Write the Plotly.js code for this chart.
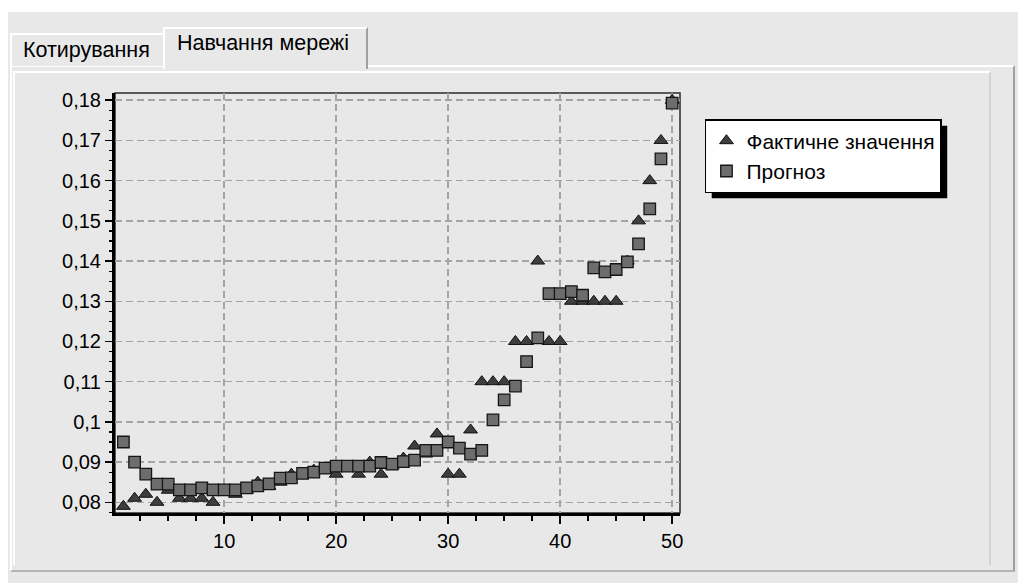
<!DOCTYPE html>
<html>
<head>
<meta charset="utf-8">
<script src="https://cdn.plot.ly/plotly-3.0.1.min.js"></script>
<style>
  html, body { margin: 0; padding: 0; background: #ffffff; width: 1018px; height: 583px; overflow: hidden; }
  #win { position: absolute; left: 8px; top: 12px; width: 1010px; height: 571px; background: #e8e8e8; }
  .tab { position: absolute; box-sizing: border-box; font-family: 'Liberation Sans', Arial, sans-serif; font-size: 21.5px; color: #000; background: #e8e8e8; white-space: nowrap; }
  #tab1 { left: 10px; top: 33px; width: 155px; height: 33px; border-top: 2px solid #ffffff; border-left: 2px solid #ffffff; padding: 3px 0 0 11px; }
  #tab2 { left: 163px; top: 27px; width: 205px; height: 42px; border-top: 2px solid #ffffff; border-left: 2px solid #ffffff; border-right: 2px solid #a0a0a0; padding: 2px 0 0 12px; z-index: 2; }
  #panel { position: absolute; left: 10px; top: 65px; width: 1005px; height: 507px; box-sizing: border-box; border-top: 2px solid #ffffff; border-left: 2px solid #ffffff; border-right: 2px solid #a0a0a0; border-bottom: 2px solid #b4b4b4; background: #e8e8e8; }
  #inner { position: absolute; left: 13px; top: 71px; width: 978px; height: 494px; box-sizing: border-box; border-top: 2px solid #ffffff; border-left: 2px solid #ffffff; border-right: 2px solid #d2d2d2; }
  #chart { position: absolute; left: 0; top: 0; width: 1018px; height: 583px; z-index: 5; }
</style>
</head>
<body>
<div id="win"></div>
<div id="panel"></div>
<div id="inner"></div>
<div class="tab" id="tab1">Котирування</div>
<div class="tab" id="tab2">Навчання мережі</div>
<div id="chart"></div>
<script>
// ---- data ----
const xIndex = [1,2,3,4,5,6,7,8,9,10,11,12,13,14,15,16,17,18,19,20,21,22,23,24,25,26,27,28,29,30,31,32,33,34,35,36,37,38,39,40,41,42,43,44,45,46,47,48,49,50];

const actualValues = [0.079,0.081,0.082,0.080,0.083,0.081,0.081,0.081,0.080,0.083,
                      0.082,0.083,0.085,0.084,0.085,0.087,0.087,0.088,0.088,0.087,
                      0.089,0.087,0.090,0.087,0.089,0.091,0.094,0.092,0.097,0.087,
                      0.087,0.098,0.110,0.110,0.110,0.120,0.120,0.140,0.120,0.120,
                      0.130,0.130,0.130,0.130,0.130,0.140,0.150,0.160,0.170,0.180];

const forecastValues = [0.0950,0.0900,0.0870,0.0845,0.0845,0.0831,0.0831,0.0836,0.0831,0.0831,
                        0.0831,0.0836,0.0841,0.0846,0.0860,0.0861,0.0872,0.0875,0.0885,0.0890,
                        0.0890,0.0890,0.0890,0.0899,0.0895,0.0901,0.0905,0.0929,0.0929,0.0950,
                        0.0935,0.0920,0.0929,0.1005,0.1055,0.1089,0.1150,0.1209,0.1319,0.1319,
                        0.1324,0.1315,0.1383,0.1373,0.1379,0.1398,0.1443,0.1530,0.1654,0.1793];

const seriesNames = ['Фактичне значення', 'Прогноз'];

const yTickVals = [0.08,0.09,0.10,0.11,0.12,0.13,0.14,0.15,0.16,0.17,0.18];
const yTickText = ['0,08','0,09','0,1','0,11','0,12','0,13','0,14','0,15','0,16','0,17','0,18'];

const FONT = "'Liberation Sans', Arial, sans-serif";

const traces = [
  {
    type: 'scatter', mode: 'markers', name: seriesNames[0],
    x: xIndex, y: actualValues,
    marker: { symbol: 'triangle-up', size: 12, color: '#3e3e3e', line: { color: '#111111', width: 1 } },
    hoverinfo: 'x+y'
  },
  {
    type: 'scatter', mode: 'markers', name: seriesNames[1],
    x: xIndex, y: forecastValues,
    marker: { symbol: 'square', size: 11.5, color: '#6d6d6d', line: { color: '#151515', width: 1.3 } },
    hoverinfo: 'x+y'
  }
];

const baseShapes = [
  { type: 'rect', xref: 'paper', yref: 'paper', x0: 0, x1: 1, y0: 0, y1: 1,
    line: { color: '#2a2a2a', width: 1.5 }, fillcolor: 'rgba(0,0,0,0)', layer: 'below' }
];

const layout = {
  width: 1018, height: 583, autosize: false,
  margin: { l: 115, r: 338, t: 93, b: 70, pad: 0 },
  paper_bgcolor: 'rgba(0,0,0,0)',
  plot_bgcolor: 'rgba(0,0,0,0)',
  font: { family: FONT, size: 20, color: '#000000' },
  showlegend: true,
  legend: {
    x: 1.0442, y: 0.938, xanchor: 'left', yanchor: 'top',
    bgcolor: '#ffffff', bordercolor: '#000000', borderwidth: 1.5,
    font: { family: FONT, size: 21, color: '#000000' },
    tracegroupgap: 0
  },
  xaxis: {
    range: [0.25, 50.7], tickmode: 'linear', tick0: 0, dtick: 10,
    showgrid: true, gridcolor: '#a4a4a4', gridwidth: 1.5, griddash: '7px,4px',
    zeroline: false, showline: true, linecolor: '#000000', linewidth: 3,
    ticks: 'outside', ticklen: 8, tickwidth: 1.5, tickcolor: '#000000',
    ticklabelstandoff: 0,
    minor: { tickmode: 'linear', tick0: 0, dtick: 2.5, ticks: 'outside', ticklen: 5, tickwidth: 1.5, tickcolor: '#000000', showgrid: false },
    tickfont: { family: FONT, size: 20, color: '#000000' },
    fixedrange: true
  },
  yaxis: {
    range: [0.07734, 0.1818], tickmode: 'array', tickvals: yTickVals, ticktext: yTickText,
    showgrid: true, gridcolor: '#a4a4a4', gridwidth: 1.5, griddash: '7px,4px',
    zeroline: false, showline: true, linecolor: '#000000', linewidth: 3,
    ticks: 'outside', ticklen: 7, tickwidth: 1.5, tickcolor: '#000000',
    minor: { tickmode: 'linear', tick0: 0, dtick: 0.0025, ticks: 'outside', ticklen: 3, tickwidth: 1.2, tickcolor: '#000000', showgrid: false },
    tickfont: { family: FONT, size: 20, color: '#000000' },
    fixedrange: true
  },
  shapes: baseShapes.slice()
};

const gd = document.getElementById('chart');
Plotly.newPlot(gd, traces, layout, { displayModeBar: false, staticPlot: true }).then(function () {
  const bg = gd.querySelector('.legend .bg');
  if (!bg) return;
  const r = bg.getBoundingClientRect();
  const g = gd.getBoundingClientRect();
  const s = gd._fullLayout._size;
  const off = 6;
  const px2x = function (p) { return (p - s.l) / s.w; };
  const px2y = function (p) { return 1 - (p - s.t) / s.h; };
  const shadow = {
    type: 'rect', xref: 'paper', yref: 'paper',
    x0: px2x(r.left - g.left + off), x1: px2x(r.right - g.left + off),
    y0: px2y(r.bottom - g.top + off), y1: px2y(r.top - g.top + off),
    fillcolor: '#000000', line: { width: 0 }, layer: 'above'
  };
  return Plotly.relayout(gd, { shapes: baseShapes.concat([shadow]) });
});
</script>
</body>
</html>
